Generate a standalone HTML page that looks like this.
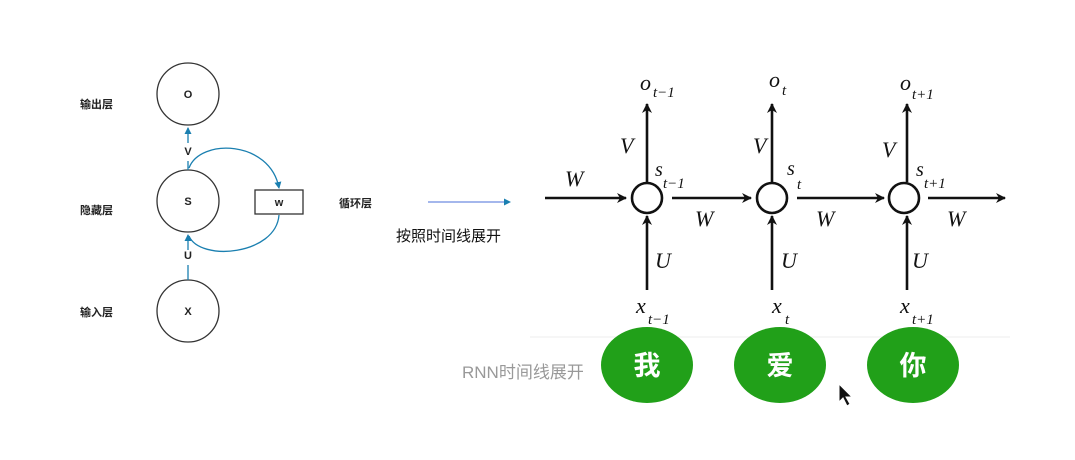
<!DOCTYPE html>
<html><head><meta charset="utf-8"><style>
body{margin:0;width:1075px;height:455px;background:#fff;overflow:hidden;font-family:"Liberation Sans","Noto Sans CJK SC",sans-serif}
</style></head><body>
<svg width="1075" height="455" viewBox="0 0 1075 455" xmlns="http://www.w3.org/2000/svg">
<defs>
<marker id="bk" markerWidth="10" markerHeight="10" refX="9" refY="5" orient="auto" markerUnits="userSpaceOnUse" viewBox="0 0 10 10"><path d="M0,0 L10,5 L0,10 L3,5 z" fill="#111"/></marker>
<marker id="bl" markerWidth="7" markerHeight="7" refX="6" refY="3.5" orient="auto" markerUnits="userSpaceOnUse"><path d="M0,0 L7,3.5 L0,7 z" fill="#1a7fb0"/></marker>
</defs>
<g font-family="Liberation Sans, Noto Sans CJK SC, sans-serif" font-size="11" fill="#222" font-weight="bold">
<text x="80" y="108">输出层</text><text x="80" y="214">隐藏层</text><text x="80" y="316">输入层</text>
<text x="339" y="207">循环层</text>
</g>
<g fill="none" stroke="#333" stroke-width="1.3">
<circle cx="188" cy="94" r="31"/><circle cx="188" cy="201" r="31"/><circle cx="188" cy="311" r="31"/>
<rect x="255" y="190" width="48" height="24"/>
</g>
<g font-size="11" fill="#222" font-weight="bold" text-anchor="middle">
<text x="188" y="98">O</text><text x="188" y="205">S</text><text x="188" y="315">X</text><text x="279" y="206">w</text>
<text x="188" y="155">V</text><text x="188" y="259">U</text>
</g>
<g stroke="#1a7fb0" stroke-width="1.3" fill="none">
<line x1="188" y1="143" x2="188" y2="128" marker-end="url(#bl)"/>
<line x1="188" y1="170" x2="188" y2="161"/>
<line x1="188" y1="280" x2="188" y2="265"/>
<line x1="188" y1="250" x2="188" y2="235" marker-end="url(#bl)"/>
<path d="M189,168 C200,138 270,140 279,188" marker-end="url(#bl)"/>
<path d="M279,215 C276,255 200,262 189,236"/>
<line x1="428" y1="202" x2="510" y2="202" stroke="#4a6fd8" stroke-width="1" marker-end="url(#bl)"/>
</g>
<text x="396" y="241" font-size="15" fill="#111">按照时间线展开</text>
<line x1="530" y1="337" x2="1010" y2="337" stroke="#eee" stroke-width="1"/>
<text x="462" y="378" font-size="17" fill="#999">RNN时间线展开</text>
<g stroke="#111" stroke-width="2.6" fill="none">
<line x1="545" y1="198" x2="626" y2="198" marker-end="url(#bk)"/>
<line x1="672" y1="198" x2="751" y2="198" marker-end="url(#bk)"/>
<line x1="797" y1="198" x2="884" y2="198" marker-end="url(#bk)"/>
<line x1="928" y1="198" x2="1005" y2="198" marker-end="url(#bk)"/>
<circle cx="647" cy="198" r="15"/><circle cx="772" cy="198" r="15"/><circle cx="904" cy="198" r="15"/>
<line x1="647" y1="182" x2="647" y2="104" marker-end="url(#bk)"/>
<line x1="772" y1="182" x2="772" y2="104" marker-end="url(#bk)"/>
<line x1="907" y1="182" x2="907" y2="104" marker-end="url(#bk)"/>
<line x1="647" y1="290" x2="647" y2="216" marker-end="url(#bk)"/>
<line x1="772" y1="290" x2="772" y2="216" marker-end="url(#bk)"/>
<line x1="907" y1="290" x2="907" y2="216" marker-end="url(#bk)"/>
</g>
<g font-family="Liberation Serif, serif" font-style="italic" fill="#111" font-size="22">
<text x="640" y="90">o</text><text x="653" y="97" font-size="15">t−1</text>
<text x="769" y="87">o</text><text x="782" y="95" font-size="15">t</text>
<text x="900" y="90">o</text><text x="912" y="99" font-size="15">t+1</text>
<text x="620" y="153">V</text><text x="753" y="153">V</text><text x="882" y="157">V</text>
<text x="565" y="186">W</text><text x="695" y="226">W</text><text x="816" y="226">W</text><text x="947" y="226">W</text>
<text x="655" y="176" font-size="20">s</text><text x="663" y="188" font-size="15">t−1</text>
<text x="787" y="175" font-size="20">s</text><text x="797" y="189" font-size="15">t</text>
<text x="916" y="176" font-size="20">s</text><text x="924" y="188" font-size="15">t+1</text>
<text x="655" y="268">U</text><text x="781" y="268">U</text><text x="912" y="268">U</text>
<text x="636" y="313">x</text><text x="648" y="324" font-size="15">t−1</text>
<text x="772" y="313">x</text><text x="785" y="324" font-size="15">t</text>
<text x="900" y="313">x</text><text x="912" y="324" font-size="15">t+1</text>
</g>
<g fill="#21a019">
<ellipse cx="647" cy="365" rx="46" ry="38"/><ellipse cx="780" cy="365" rx="46" ry="38"/><ellipse cx="913" cy="365" rx="46" ry="38"/>
</g>
<g fill="#fff" font-size="27" font-weight="bold" text-anchor="middle">
<text x="647" y="375">我</text><text x="780" y="375">爱</text><text x="913" y="375">你</text>
</g>
<path d="M839,384 L839,402 L843,398 L847,406 L850,404 L846,397 L852,397 z" fill="#111" stroke="#fff" stroke-width="1"/>
</svg>
</body></html>
